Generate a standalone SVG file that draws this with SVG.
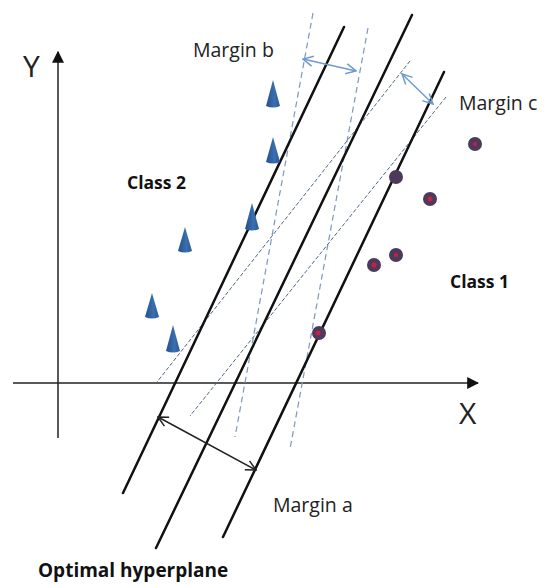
<svg xmlns="http://www.w3.org/2000/svg" width="549" height="588" viewBox="0 0 549 588">
<style>
.axis{stroke:#222;stroke-width:1.5;fill:none}
.solid{stroke:#111;stroke-width:2.5;fill:none;stroke-linecap:round}
.dash{stroke:#7a98c0;stroke-width:1.2;fill:none;stroke-dasharray:6,4}
.dash2{stroke:#4d6788;stroke-width:1;fill:none;stroke-dasharray:4,2}
.mb{stroke:#6f9ccc;stroke-width:1.5;fill:none}
.ma{stroke:#222;stroke-width:1.5;fill:none}
.lbl{font-family:"Open Sans","Liberation Sans",sans-serif;font-size:19.5px;fill:#222}
.big{font-family:"Open Sans","Liberation Sans",sans-serif;font-size:30px;fill:#222}
.bold{font-family:"Open Sans","Liberation Sans",sans-serif;font-size:17.5px;font-weight:bold;fill:#111}
.tri{fill:url(#tg)}
.dot{fill:#4d3a5a}
.ctr{fill:#c8203f}
</style>
<defs>
<linearGradient id="tg" x1="0" y1="0" x2="1" y2="0">
<stop offset="0" stop-color="#244f8a"/>
<stop offset="0.6" stop-color="#3a6fb0"/>
<stop offset="1" stop-color="#2a5a96"/>
</linearGradient>
<marker id="af" viewBox="0 0 10 10" refX="9" refY="5" markerWidth="12" markerHeight="12" markerUnits="userSpaceOnUse" orient="auto">
<path d="M0,0 L10,5 L0,10 Z" fill="#111"/>
</marker>
<marker id="ob" viewBox="0 0 12 12" refX="11" refY="6" markerWidth="12" markerHeight="12" markerUnits="userSpaceOnUse" orient="auto-start-reverse">
<path d="M1,1 L11,6 L1,11" fill="none" stroke="#6f9ccc" stroke-width="1.5"/>
</marker>
<marker id="oa" viewBox="0 0 12 12" refX="11" refY="6" markerWidth="12" markerHeight="12" markerUnits="userSpaceOnUse" orient="auto-start-reverse">
<path d="M1,1 L11,6 L1,11" fill="none" stroke="#222" stroke-width="1.5"/>
</marker>
</defs>
<g id="axes">
<line class="axis" x1="58" y1="438" x2="58" y2="52" marker-end="url(#af)"/>
<line class="axis" x1="13" y1="383" x2="478" y2="383" marker-end="url(#af)"/>
<text class="big" x="23" y="77">Y</text>
<text class="big" x="459" y="424">X</text>
</g>
<g id="connectors">
<line class="dash" x1="313" y1="13" x2="235" y2="437"/>
<line class="dash" x1="368" y1="28" x2="290" y2="449"/>
<line class="dash2" x1="410" y1="61" x2="157" y2="382"/>
<line class="dash2" x1="446" y1="97" x2="190" y2="416"/>
<line class="solid" x1="344" y1="27" x2="123" y2="493"/>
<line class="solid" x1="412" y1="15" x2="156" y2="548"/>
<line class="solid" x1="444" y1="72" x2="223" y2="537"/>
<line class="mb" x1="303" y1="59" x2="356" y2="71" marker-start="url(#ob)" marker-end="url(#ob)"/>
<line class="mb" x1="402" y1="74" x2="433" y2="104" marker-start="url(#ob)" marker-end="url(#ob)"/>
<line class="ma" x1="158" y1="417" x2="256" y2="470" marker-start="url(#oa)" marker-end="url(#oa)"/>
</g>
<g id="class2">
<path class="tri" d="M273,80 L280,106 Q273,109 266,106 Z"/>
<path class="tri" d="M273,137 L280,162 Q273,165 266,162 Z"/>
<path class="tri" d="M252,203 L259,229 Q252,232 245,229 Z"/>
<path class="tri" d="M185,227 L192,251 Q185,254 178,251 Z"/>
<path class="tri" d="M152,293 L159,317 Q152,320 145,317 Z"/>
<path class="tri" d="M173,325 L180,351 Q173,354 166,351 Z"/>
</g>
<g id="class1">
<circle class="dot" cx="475" cy="144" r="7"/><circle class="ctr" cx="475" cy="144" r="2"/>
<circle class="dot" cx="396" cy="177" r="7"/>
<circle class="dot" cx="430" cy="199" r="7"/><circle class="ctr" cx="430" cy="199" r="2.5"/>
<circle class="dot" cx="396" cy="255" r="7"/><circle class="ctr" cx="396" cy="255" r="2"/>
<circle class="dot" cx="374" cy="265" r="7"/><circle class="ctr" cx="374" cy="265" r="2.5"/>
<circle class="dot" cx="319" cy="333" r="7"/><circle class="ctr" cx="318" cy="333" r="2.5"/>
</g>
<g id="labels">
<text class="lbl" x="193" y="57">Margin b</text>
<text class="lbl" x="459" y="110">Margin c</text>
<text class="lbl" x="273" y="512">Margin a</text>
<text class="bold" x="127" y="189">Class 2</text>
<text class="bold" x="450" y="288">Class 1</text>
<text class="bold" x="38" y="577" style="font-size:19px">Optimal hyperplane</text>
</g>
</svg>
